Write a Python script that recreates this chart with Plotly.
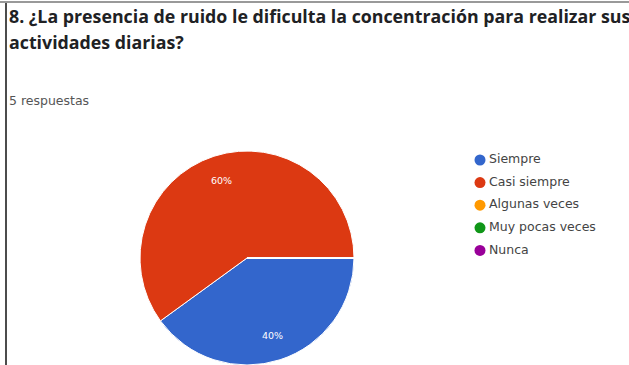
import math
import plotly.graph_objects as go

# Survey responses for question 8
categories = ["Siempre", "Casi siempre", "Algunas veces", "Muy pocas veces", "Nunca"]
responses = [2, 3, 0, 0, 0]
colors = ["#3366cc", "#dc3912", "#ff9900", "#109618", "#990099"]

title_line1 = "8. ¿La presencia de ruido le dificulta la concentración para realizar sus"
title_line2 = "actividades diarias?"
subtitle = "5 respuestas"

W, H = 629, 365
TITLE_FONT = "Open Sans, Arial, sans-serif"
FONT = "DejaVu Sans, Verdana, sans-serif"

# Pie geometry in pixels
PIE_CX, PIE_CY, PIE_R = 247, 258, 107
START_DEG = 90  # first slice starts at 3 o'clock, running clockwise

fig = go.Figure()

fig.add_trace(go.Pie(
    labels=categories,
    values=responses,
    marker=dict(colors=colors, line=dict(color="white", width=1)),
    sort=False,
    direction="clockwise",
    rotation=START_DEG,
    textinfo="none",
    domain=dict(x=[(PIE_CX - PIE_R) / W, (PIE_CX + PIE_R) / W],
                y=[(H - PIE_CY - PIE_R) / H, (H - PIE_CY + PIE_R) / H]),
    showlegend=False,
    hoverinfo="label+percent",
))

# Percentage labels placed at each slice's mid-angle
total = sum(responses)
annotations = []
acc = 0
for val in responses:
    if val == 0:
        continue
    mid = START_DEG + 360 * (acc + val / 2) / total
    acc += val
    rad = math.radians(mid)
    px = PIE_CX + 0.76 * PIE_R * math.sin(rad)
    py = PIE_CY - 0.76 * PIE_R * math.cos(rad)
    annotations.append(dict(
        text=f"{round(100 * val / total)}%", x=px / W, y=1 - py / H,
        xref="paper", yref="paper", xanchor="center", yanchor="middle",
        showarrow=False, font=dict(family=FONT, size=9.5, color="white"),
    ))

# Legend: one dot and label per category, on small dedicated axes
ROW0, ROW_STEP = 160, 22.6
leg_top = ROW0 - ROW_STEP / 2
leg_bot = leg_top + ROW_STEP * len(categories)
fig.add_trace(go.Scatter(
    x=[0] * len(categories), y=categories, mode="markers",
    marker=dict(color=colors, size=11, symbol="circle"),
    xaxis="x2", yaxis="y2", cliponaxis=False,
    showlegend=False, hoverinfo="skip",
))
fig.add_trace(go.Scatter(
    x=[0] * len(categories), y=categories, mode="text",
    text=categories, textposition="middle right",
    textfont=dict(family=FONT, size=12.5, color="#444444"),
    xaxis="x3", yaxis="y2", cliponaxis=False,
    showlegend=False, hoverinfo="skip",
))

annotations += [
    dict(text=f"<b>{title_line1}</b>", x=7 / W, y=1 - 16 / H, xref="paper", yref="paper",
         xanchor="left", yanchor="middle", showarrow=False,
         font=dict(family=TITLE_FONT, size=17.8, color="#202124")),
    dict(text=f"<b>{title_line2}</b>", x=7 / W, y=1 - 42 / H, xref="paper", yref="paper",
         xanchor="left", yanchor="middle", showarrow=False,
         font=dict(family=TITLE_FONT, size=17.8, color="#202124")),
    dict(text=subtitle, x=7 / W, y=1 - 101 / H, xref="paper", yref="paper",
         xanchor="left", yanchor="middle", showarrow=False,
         font=dict(family=FONT, size=12.5, color="#555555")),
]

fig.update_layout(
    width=W, height=H,
    margin=dict(l=0, r=0, t=0, b=0),
    paper_bgcolor="white",
    plot_bgcolor="rgba(0,0,0,0)",
    showlegend=False,
    xaxis=dict(visible=False),
    yaxis=dict(visible=False),
    xaxis2=dict(visible=False, range=[0, 1], domain=[480 / W, 620 / W], fixedrange=True),
    xaxis3=dict(visible=False, range=[0, 1], domain=[489 / W, 625 / W], fixedrange=True,
                anchor="y2"),
    yaxis2=dict(visible=False, type="category", categoryorder="array", categoryarray=categories,
                range=[len(categories) - 0.5, -0.5],
                domain=[1 - leg_bot / H, 1 - leg_top / H], fixedrange=True),
    annotations=annotations,
    shapes=[
        dict(type="line", xref="paper", yref="paper", x0=0, x1=1, y0=1 - 2 / H, y1=1 - 2 / H,
             line=dict(color="#777777", width=1.5)),
        dict(type="line", xref="paper", yref="paper", x0=6 / W, x1=6 / W, y0=0, y1=1 - 3 / H,
             line=dict(color="#111111", width=1.5)),
    ],
)

fig.write_html("out.html")
